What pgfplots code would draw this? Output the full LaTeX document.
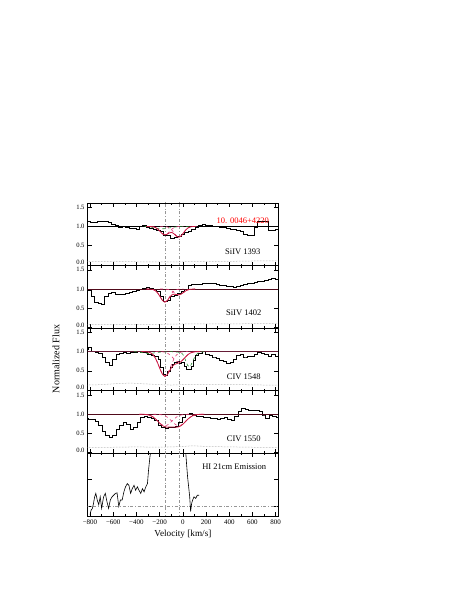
\documentclass[border=0pt]{standalone}
\usepackage{fontspec}
\setmainfont{Liberation Serif}
\usepackage{pgfplots}
\pgfplotsset{compat=1.18}

\definecolor{modred}{RGB}{200,25,65}
\definecolor{compred}{RGB}{225,60,120}
\definecolor{fitgreen}{RGB}{40,140,50}
\definecolor{guide}{RGB}{150,150,150}

\tikzset{
  specdata/.style={black, line width=0.65pt, const plot mark mid},
  model/.style={modred, line width=0.8pt},
  comp/.style={compred, dashed, line width=0.6pt},
  blend/.style={fitgreen, dashed, line width=0.6pt},
  err/.style={guide, densely dotted, line width=0.5pt},
  vguide/.style={guide, dash dot, line width=0.5pt},
  lab/.style={font=\fontsize{8.5}{9}\selectfont},
}
\pgfplotsset{
  panel/.style={
    width=190.3pt, height=62.6pt, scale only axis,
    xmin=-820, xmax=820,
    xtick={-800,-600,...,800}, minor x tick num=1,
    xticklabels=\empty,
    ymin=-0.02, ymax=1.61,
    ytick={0.5,1,1.5}, yticklabels={0.5,1.0,1.5},
    extra y ticks={0}, extra y tick labels={0.0},
    extra y tick style={yticklabel style={yshift=2.2pt}},
    tick align=inside, major tick length=4pt, minor tick length=2pt,
    tick style={black, line width=0.5pt},
    axis line style={line width=0.7pt},
    xticklabel style={font=\fontsize{7}{8}\selectfont},
    yticklabel style={font=\fontsize{6.6}{7}\selectfont, inner sep=0.5pt, xshift=-2.5pt},
    clip=true,
  },
}

\begin{document}
\begin{tikzpicture}
\path[use as bounding box] (0,0) rectangle (457pt,591pt);

% ---- SiIV 1393
\begin{axis}[panel, at={(87.7pt,325.4pt)}, anchor=south west]
\addplot[vguide] coordinates {(-155,-1) (-155,3)};
\addplot[vguide] coordinates {(-35,-1) (-35,3)};
\addplot[err] coordinates {(-820,0.09) (-600,0.09) (-400,0.08) (-200,0.08) (0,0.08) (200,0.09) (400,0.09) (600,0.10) (820,0.10)};
\addplot[specdata] coordinates {
(-830,1.25) (-810,1.12) (-780,1.10) (-750,1.10) (-720,1.12) (-690,1.12) (-660,1.12) (-630,1.10)
(-600,1.05) (-570,1.04) (-540,0.97) (-510,1.00) (-480,0.97) (-450,0.95) (-420,0.94) (-390,0.93)
(-360,1.00) (-330,1.02) (-300,0.98) (-270,0.96) (-240,0.92) (-210,0.90) (-180,0.86) (-150,0.78)
(-120,0.76) (-90,0.70) (-60,0.72) (-30,0.75) (0,0.80) (30,0.85) (60,0.88) (90,0.92) (120,0.98)
(150,1.03) (180,1.06) (210,1.03) (240,1.02) (270,1.00) (300,1.00) (330,0.98) (360,0.97) (390,0.95)
(420,0.93) (450,0.92) (480,0.90) (510,0.86) (540,0.80) (570,0.76) (600,0.76) (630,0.97) (660,1.12)
(690,1.12) (720,1.12) (750,0.90) (780,0.90) (810,0.92) (830,0.92)};
\addplot[black, line width=0.6pt] coordinates {(-900,1) (900,1)};
\addplot[blend] coordinates {(-330,1.0) (-280,0.99) (-240,0.95) (-200,0.94) (-160,0.94) (-120,0.96) (-80,0.98) (-30,1.0) (100,1.0)};
\addplot[comp] coordinates {(-315,1) (-295,1.0) (-275,0.998) (-255,0.990) (-235,0.970) (-215,0.929) (-195,0.866) (-175,0.806) (-155,0.780) (-135,0.806) (-115,0.866) (-95,0.929) (-75,0.970) (-55,0.990) (-35,0.998) (-15,1.0) (5,1)};
\addplot[comp] coordinates {(-195,1) (-175,1.0) (-155,0.997) (-135,0.988) (-115,0.962) (-95,0.909) (-75,0.830) (-55,0.753) (-35,0.720) (-15,0.753) (5,0.830) (25,0.909) (45,0.962) (65,0.988) (85,0.997) (105,1.0) (125,1)};
\addplot[model] coordinates {(-315,1) (-295,1.0) (-275,0.998) (-255,0.990) (-235,0.970) (-215,0.929) (-195,0.866) (-175,0.806) (-155,0.778) (-135,0.796) (-115,0.833) (-95,0.844) (-75,0.805) (-55,0.745) (-35,0.719) (-15,0.753) (5,0.830) (25,0.909) (45,0.962) (65,0.988) (85,0.997) (105,1)};
\node[lab, text=red] at (rel axis cs:0.815,0.72) {10. 0046+4220};
\node[lab] at (rel axis cs:0.815,0.22) {SiIV 1393};
\end{axis}

% ---- SiIV 1402
\begin{axis}[panel, at={(87.7pt,262.8pt)}, anchor=south west]
\addplot[vguide] coordinates {(-155,-1) (-155,3)};
\addplot[vguide] coordinates {(-35,-1) (-35,3)};
\addplot[err] coordinates {(-820,0.08) (-600,0.08) (-400,0.08) (-200,0.08) (0,0.09) (200,0.09) (400,0.09) (600,0.10) (820,0.10)};
\addplot[specdata] coordinates {
(-830,1.00) (-800,0.97) (-775,0.80) (-745,0.66) (-715,0.62) (-690,0.60) (-660,0.80) (-630,0.88)
(-600,0.92) (-570,0.85) (-540,0.87) (-510,0.86) (-480,0.90) (-450,0.92) (-420,0.95) (-390,0.97)
(-360,1.00) (-330,1.02) (-300,1.04) (-270,1.02) (-240,0.98) (-210,0.94) (-180,0.80) (-150,0.68)
(-120,0.70) (-90,0.80) (-60,0.84) (-30,0.88) (0,0.93) (30,0.98) (60,1.10) (90,1.11) (120,1.12)
(150,1.13) (180,1.15) (210,1.14) (240,1.16) (270,1.14) (300,1.12) (330,1.10) (360,1.09) (390,1.08)
(420,1.06) (450,1.05) (480,1.08) (510,1.10) (540,1.12) (570,1.15) (600,1.16) (630,1.18) (660,1.19)
(690,1.21) (720,1.23) (750,1.26) (780,1.28) (810,1.24) (830,1.24)};
\addplot[black!60!modred, line width=0.7pt] coordinates {(-900,1) (900,1)};
\addplot[comp] coordinates {(-315,1) (-295,0.999) (-275,0.996) (-255,0.985) (-235,0.954) (-215,0.890) (-195,0.794) (-175,0.700) (-155,0.660) (-135,0.700) (-115,0.794) (-95,0.890) (-75,0.954) (-55,0.985) (-35,0.996) (-15,0.999) (5,1)};
\addplot[comp] coordinates {(-195,1) (-175,1.0) (-155,0.998) (-135,0.993) (-115,0.980) (-95,0.951) (-75,0.909) (-55,0.868) (-35,0.850) (-15,0.868) (5,0.909) (25,0.951) (45,0.980) (65,0.993) (85,0.998) (105,1)};
\addplot[model] coordinates {(-315,1) (-295,0.999) (-275,0.996) (-255,0.985) (-235,0.954) (-215,0.890) (-195,0.794) (-175,0.700) (-155,0.659) (-135,0.695) (-115,0.778) (-95,0.846) (-75,0.867) (-55,0.855) (-35,0.847) (-15,0.867) (5,0.909) (25,0.951) (45,0.980) (65,0.993) (85,0.998) (105,1)};
\node[lab] at (rel axis cs:0.82,0.24) {SiIV 1402};
\end{axis}

% ---- CIV 1548
\begin{axis}[panel, at={(87.7pt,200.2pt)}, anchor=south west]
\addplot[vguide] coordinates {(-155,-1) (-155,3)};
\addplot[vguide] coordinates {(-35,-1) (-35,3)};
\addplot[err] coordinates {(-820,0.13) (-700,0.14) (-560,0.17) (-450,0.18) (-320,0.16) (-200,0.14) (-100,0.13) (0,0.14) (150,0.15) (300,0.15) (500,0.14) (700,0.13) (820,0.13)};
\addplot[specdata] coordinates {
(-830,1.05) (-800,1.12) (-770,1.02) (-740,0.97) (-710,0.95) (-680,0.85) (-650,0.72) (-620,0.65)
(-590,0.80) (-560,0.93) (-530,0.96) (-500,0.97) (-470,0.95) (-440,0.97) (-410,0.98) (-380,1.00)
(-350,0.97) (-320,0.97) (-290,0.92) (-260,0.90) (-230,0.88) (-200,0.80) (-180,0.60) (-160,0.40)
(-140,0.38) (-120,0.50) (-100,0.60) (-80,0.68) (-60,0.72) (-40,0.75) (-20,0.70) (0,0.72) (20,0.62)
(40,0.55) (60,0.55) (80,0.62) (100,0.78) (120,0.90) (150,0.95) (180,1.00) (210,0.94) (240,0.90)
(270,0.86) (300,0.82) (330,0.78) (360,0.74) (390,0.70) (420,0.72) (450,0.80) (480,0.90) (510,0.92)
(540,0.86) (570,0.88) (600,0.88) (630,0.92) (660,0.98) (690,0.95) (720,0.93) (750,0.88) (780,0.92)
(810,0.88) (830,0.88)};
\addplot[black!55!compred, line width=0.7pt] coordinates {(-900,1) (900,1)};
\addplot[blend] coordinates {(-420,1.0) (-380,0.99) (-340,0.97) (-300,0.95) (-260,0.96) (-220,0.98) (-180,0.99) (-100,1.0) (-20,0.98) (0,0.93) (20,0.80) (40,0.65) (55,0.60) (70,0.65) (90,0.78) (110,0.90) (130,0.96) (160,0.99) (190,1.0)};
\addplot[comp] coordinates {(-355,1) (-335,0.999) (-315,0.996) (-295,0.987) (-275,0.964) (-255,0.914) (-235,0.822) (-215,0.688) (-195,0.535) (-175,0.409) (-155,0.360) (-135,0.409) (-115,0.535) (-95,0.688) (-75,0.822) (-55,0.914) (-35,0.964) (-15,0.987) (5,0.996) (25,0.999) (45,1)};
\addplot[comp] coordinates {(-235,1) (-215,1.0) (-195,0.998) (-175,0.995) (-155,0.985) (-135,0.964) (-115,0.925) (-95,0.869) (-75,0.804) (-55,0.751) (-35,0.730) (-15,0.751) (5,0.804) (25,0.869) (45,0.925) (65,0.964) (85,0.985) (105,0.995) (125,0.998) (145,1)};
\addplot[model] coordinates {(-355,1) (-335,0.999) (-315,0.996) (-295,0.987) (-275,0.964) (-255,0.914) (-235,0.822) (-215,0.688) (-195,0.534) (-175,0.407) (-155,0.355) (-135,0.394) (-115,0.495) (-95,0.598) (-75,0.661) (-55,0.686) (-35,0.704) (-15,0.741) (5,0.801) (25,0.868) (45,0.925) (65,0.964) (85,0.985) (105,0.995) (125,0.998) (145,1)};
\node[lab] at (rel axis cs:0.82,0.23) {CIV 1548};
\end{axis}

% ---- CIV 1550
\begin{axis}[panel, at={(87.7pt,137.6pt)}, anchor=south west]
\addplot[vguide] coordinates {(-155,-1) (-155,3)};
\addplot[vguide] coordinates {(-35,-1) (-35,3)};
\addplot[err] coordinates {(-820,0.14) (-600,0.14) (-400,0.15) (-200,0.14) (0,0.16) (80,0.18) (200,0.16) (400,0.15) (600,0.14) (820,0.14)};
\addplot[specdata] coordinates {
(-830,0.90) (-800,0.88) (-770,0.87) (-740,0.82) (-710,0.70) (-680,0.56) (-650,0.45) (-620,0.40)
(-590,0.46) (-560,0.60) (-530,0.72) (-500,0.80) (-470,0.75) (-440,0.60) (-410,0.65) (-380,0.80)
(-350,0.93) (-320,0.95) (-290,0.92) (-260,0.90) (-230,0.84) (-200,0.70) (-170,0.65) (-140,0.64)
(-110,0.66) (-80,0.65) (-50,0.68) (-20,0.80) (10,0.92) (40,1.00) (70,1.02) (100,0.98) (130,0.95)
(160,0.94) (190,0.93) (220,0.92) (250,0.90) (280,0.89) (310,0.88) (340,0.90) (370,0.91) (400,0.88)
(430,0.85) (460,0.95) (490,1.08) (520,1.15) (550,1.12) (580,1.10) (610,1.10) (640,1.09) (670,1.08)
(700,0.98) (730,0.90) (760,0.96) (790,0.95) (820,0.93) (830,0.93)};
\addplot[black!60!modred, line width=0.7pt] coordinates {(-900,1) (900,1)};
\addplot[comp] coordinates {(-375,1) (-355,0.999) (-335,0.997) (-315,0.991) (-295,0.980) (-275,0.960) (-255,0.925) (-235,0.877) (-215,0.818) (-195,0.760) (-175,0.716) (-155,0.700) (-135,0.716) (-115,0.760) (-95,0.818) (-75,0.877) (-55,0.925) (-35,0.960) (-15,0.980) (5,0.991) (25,0.997) (45,0.999) (65,1)};
\addplot[comp] coordinates {(-255,1) (-235,0.999) (-215,0.997) (-195,0.991) (-175,0.980) (-155,0.960) (-135,0.925) (-115,0.877) (-95,0.818) (-75,0.760) (-55,0.716) (-35,0.700) (-15,0.716) (5,0.760) (25,0.818) (45,0.877) (65,0.925) (85,0.960) (105,0.980) (125,0.991) (145,0.997) (165,0.999) (185,1)};
\addplot[model] coordinates {(-375,1) (-355,0.999) (-335,0.997) (-315,0.991) (-295,0.980) (-275,0.960) (-255,0.925) (-235,0.876) (-215,0.816) (-195,0.753) (-175,0.702) (-155,0.672) (-135,0.662) (-115,0.667) (-95,0.669) (-75,0.667) (-55,0.662) (-35,0.672) (-15,0.702) (5,0.753) (25,0.816) (45,0.876) (65,0.925) (85,0.960) (105,0.980) (125,0.991) (145,0.997) (165,0.999) (185,1)};
\node[lab] at (rel axis cs:0.82,0.24) {CIV 1550};
\end{axis}

% ---- HI 21cm
\begin{axis}[panel, at={(87.7pt,75pt)}, anchor=south west,
  ymin=-0.38, ymax=2.0, ytick={0,1,2}, yticklabels=\empty,
  extra y ticks={}, extra y tick labels={},
  xticklabels={−800,−600,−400,−200,0,200,400,600,800}]
\addplot[vguide] coordinates {(-155,-1) (-155,3)};
\addplot[vguide] coordinates {(-35,-1) (-35,3)};
\addplot[vguide] coordinates {(-900,0) (900,0)};
\addplot[black, line width=0.6pt] coordinates {
(-800,-0.33) (-790,-0.15) (-780,-0.10) (-770,0.10) (-760,0.35) (-750,0.48) (-738,0.23) (-725,0.05)
(-712,0.35) (-700,-0.09) (-683,0.35) (-668,0.48) (-654,0.16) (-640,-0.09) (-625,0.23) (-610,0.35)
(-596,0.41) (-581,0.48) (-567,0.50) (-552,-0.02) (-538,0.23) (-523,0.23) (-508,0.54) (-494,0.73)
(-479,0.85) (-465,0.79) (-450,0.48) (-436,0.66) (-421,0.79) (-407,0.60) (-392,0.73) (-378,0.60)
(-363,0.48) (-348,0.66) (-334,0.54) (-319,0.73) (-305,0.85) (-296,1.35) (-284,1.85) (-276,2.10)
(-260,2.6) (-150,5) (-50,5) (15,2.6) (24,2.10) (32,1.60) (41,1.10) (50,0.73) (59,0.35) (67,-0.21)
(76,0.10) (85,0.23) (96,0.35) (111,0.29) (125,0.41) (140,0.41)};
\node[lab] at (rel axis cs:0.77,0.79) {HI 21cm Emission};
\end{axis}

\node[rotate=90, font=\fontsize{10}{11}\selectfont] at (56pt,232pt) {Normalized Flux};
\node[font=\fontsize{9.2}{10}\selectfont] at (182.9pt,56.7pt) {Velocity [km/s]};
\end{tikzpicture}
\end{document}
